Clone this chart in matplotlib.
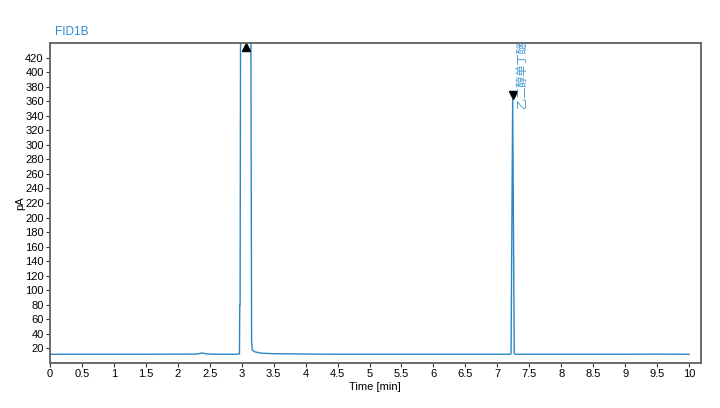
import matplotlib
matplotlib.use("Agg")
import matplotlib.pyplot as plt

plt.rcParams['font.family'] = ['Liberation Sans', 'Noto Sans CJK SC', 'DejaVu Sans']

# Chromatogram trace (time in min, signal in pA)
time_min = [0.0, 0.5, 1.0, 1.5, 2.0, 2.3, 2.38, 2.45, 2.6, 2.9, 2.965, 2.97, 2.975, 2.985,
            3.14, 3.155, 3.165, 3.2, 3.3, 3.5, 4.0, 4.5, 5.0, 6.0, 7.0, 7.2, 7.215,
            7.24, 7.265, 7.28, 7.4, 8.0, 9.0, 9.5, 10.0]
signal_pa = [12.0, 12.0, 12.0, 12.0, 12.2, 12.3, 13.8, 12.5, 12.0, 12.0, 12.5, 80.0, 80.0, 600.0,
             600.0, 30.0, 18.0, 15.5, 13.5, 12.8, 12.3, 12.0, 12.0, 12.0, 12.0, 12.0, 13.0,
             362.0, 13.0, 12.0, 12.0, 12.0, 12.0, 12.2, 12.0]

peak_up_time = 3.06
peak_up_val = 434
peak_down_time = 7.24
peak_down_val = 369
peak_label = "乙二醇单丁醚"

x_ticks = [0, 0.5, 1, 1.5, 2, 2.5, 3, 3.5, 4, 4.5, 5, 5.5, 6, 6.5, 7, 7.5, 8, 8.5, 9, 9.5, 10]
x_tick_labels = ["0", "0.5", "1", "1.5", "2", "2.5", "3", "3.5", "4", "4.5", "5", "5.5",
                 "6", "6.5", "7", "7.5", "8", "8.5", "9", "9.5", "10"]
y_ticks = list(range(20, 421, 20))

line_color = "#2a87c4"
label_color = "#3d97cf"
title_color = "#2a8ad4"
spine_color = "#5f5f5f"

fig = plt.figure(figsize=(7.2, 4.08), dpi=100)
ax = fig.add_axes([0.0694, 0.1103, 0.9036, 0.7843])

ax.plot(time_min, signal_pa, color=line_color, lw=1.0)
ax.plot([peak_up_time], [peak_up_val], marker='^', color='black', ms=5.5, ls='none')
ax.plot([peak_down_time], [peak_down_val], marker='v', color='black', ms=5.5, ls='none')
ax.text(peak_down_time + 0.06, 350, peak_label, rotation=90, color=label_color,
        fontsize=8, ha='left', va='bottom', family=['Noto Sans CJK SC', 'DejaVu Sans'],
        fontweight='light', clip_on=True)

ax.set_xlim(0, 10.18)
ax.set_ylim(0, 440)
ax.set_xticks(x_ticks)
ax.set_xticklabels(x_tick_labels)
ax.set_yticks(y_ticks)
ax.tick_params(axis='both', labelsize=8, length=3, width=0.8, color='#333333', pad=1.5,
               direction='out')

for s in ax.spines.values():
    s.set_color(spine_color)
    s.set_linewidth(1.3)

ax.set_xlabel("Time [min]", fontsize=8, labelpad=2)
ax.set_ylabel("pA", fontsize=8, labelpad=0)

fig.text(55 / 720, 1 - 32 / 408, "FID1B", color=title_color, fontsize=8.5,
         ha='left', va='center')

fig.savefig("out.png", dpi=100)
